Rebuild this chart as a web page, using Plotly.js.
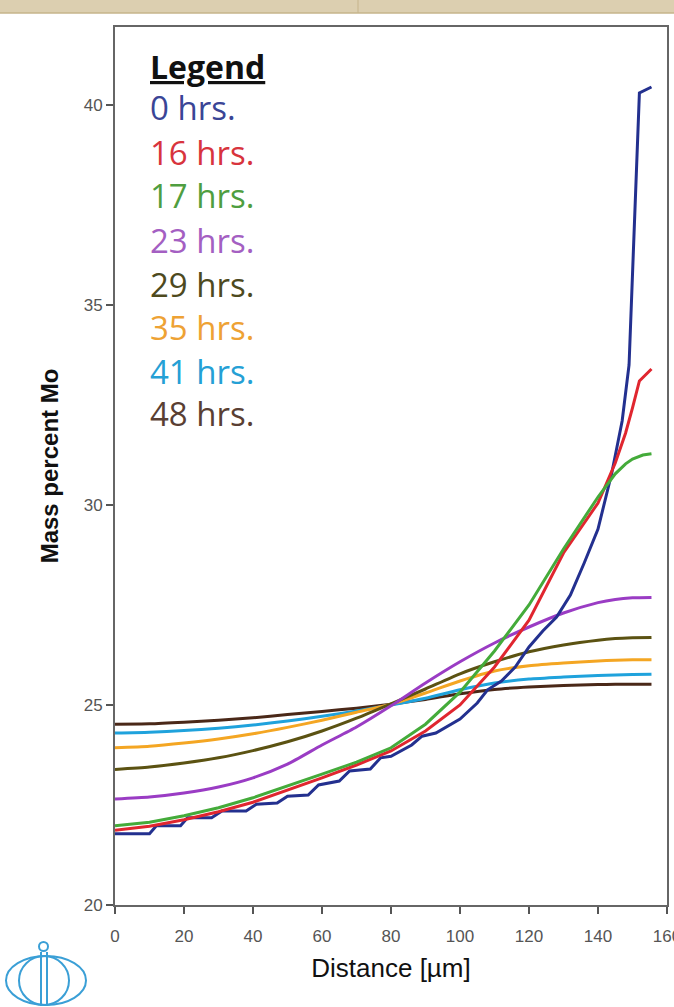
<!DOCTYPE html>
<html>
<head>
<meta charset="utf-8">
<script src="https://cdn.plot.ly/plotly-3.0.1.min.js"></script>
<style>
html,body{margin:0;padding:0;background:#fff;}
#chart{width:674px;height:1007px;}
</style>
</head>
<body>
<div id="chart"></div>
<script>
// ---- data ----
const seriesNames = ["0 hrs.", "16 hrs.", "17 hrs.", "23 hrs.", "29 hrs.", "35 hrs.", "41 hrs.", "48 hrs."];

const xSmooth = [0, 10, 20, 30, 40, 50, 60, 70, 80, 90, 100, 110, 120, 130, 140, 145, 150, 155.5];

const x0h = [0, 10, 12, 19, 21, 28, 31, 38, 41, 47, 50, 56, 59, 65, 68, 74, 77, 80, 86, 89, 93, 100, 105, 108, 112, 116, 120, 124, 128, 132, 136, 140, 144, 147, 149, 152, 155.5];
const y0h = [21.78, 21.78, 21.98, 21.98, 22.18, 22.18, 22.35, 22.35, 22.52, 22.55, 22.72, 22.75, 23.0, 23.1, 23.35, 23.4, 23.68, 23.72, 24.0, 24.22, 24.3, 24.65, 25.05, 25.38, 25.6, 25.95, 26.45, 26.85, 27.2, 27.75, 28.55, 29.4, 30.8, 32.1, 33.5, 40.3, 40.45];

const x16h = [0, 10, 20, 30, 40, 50, 60, 70, 80, 90, 100, 110, 120, 130, 140, 145, 148, 150, 152, 155.5];
const y16h = [21.87, 21.97, 22.13, 22.33, 22.57, 22.87, 23.18, 23.5, 23.85, 24.35, 25.0, 25.95, 27.12, 28.8, 30.05, 31.05, 31.8, 32.43, 33.1, 33.4];

const x17h = [0, 10, 20, 30, 40, 50, 60, 70, 80, 90, 100, 110, 120, 130, 140, 145, 148, 150, 153, 155.5];
const y17h = [21.98, 22.07, 22.23, 22.43, 22.68, 22.97, 23.27, 23.57, 23.93, 24.52, 25.32, 26.35, 27.5, 28.9, 30.2, 30.78, 31.03, 31.15, 31.25, 31.28];

const y23h = [22.65, 22.7, 22.8, 22.95, 23.18, 23.52, 24.0, 24.45, 24.98, 25.55, 26.08, 26.55, 26.95, 27.3, 27.56, 27.64, 27.68, 27.69];
const y29h = [23.39, 23.45, 23.55, 23.68, 23.86, 24.08, 24.35, 24.67, 25.03, 25.4, 25.78, 26.08, 26.33, 26.5, 26.62, 26.66, 26.68, 26.69];
const y35h = [23.93, 23.97, 24.05, 24.15, 24.28, 24.44, 24.62, 24.82, 25.02, 25.3, 25.6, 25.85, 25.98, 26.05, 26.1, 26.12, 26.13, 26.13];
const y41h = [24.3, 24.32, 24.36, 24.42, 24.5, 24.6, 24.72, 24.85, 25.0, 25.17, 25.38, 25.55, 25.65, 25.7, 25.74, 25.75, 25.76, 25.77];
const y48h = [24.52, 24.53, 24.57, 24.62, 24.68, 24.76, 24.84, 24.92, 25.02, 25.14, 25.28, 25.39, 25.45, 25.49, 25.51, 25.52, 25.52, 25.52];

const xTicks = [0, 20, 40, 60, 80, 100, 120, 140, 160];
const yTicks = [20, 25, 30, 35, 40];

const lineColors = ["#23308f", "#e0262f", "#44ab3a", "#9a3cc4", "#5b5212", "#f4a623", "#1fa2dc", "#4a2818"];
const textColors = ["#3a4596", "#d8343d", "#4f9e40", "#a45fc2", "#4e4a1e", "#eea234", "#25a0d5", "#5a3f33"];

// ---- traces ----
const xs = [x0h, x16h, x17h, xSmooth, xSmooth, xSmooth, xSmooth, xSmooth];
const ys = [y0h, y16h, y17h, y23h, y29h, y35h, y41h, y48h];
const order = [7, 6, 5, 4, 3, 0, 1, 2];
const traces = order.map(i => ({
  x: xs[i], y: ys[i], type: "scatter", mode: "lines", name: seriesNames[i],
  line: {color: lineColors[i], width: 3, shape: (i >= 3 ? "spline" : "linear"), smoothing: 0.6},
  hoverinfo: "skip"
}));

// plot-area geometry (px) for paper conversions of decorations
const W = 674, H = 1007, L = 115, R = 7, T = 27, B = 102;
const PW = W - L - R, PH = H - T - B;
const px = v => (v - L) / PW;
const py = v => (H - B - v) / PH;

const shapes = [
  {type: "rect", xref: "paper", yref: "paper", x0: px(0), x1: px(W), y0: py(13), y1: py(-2), fillcolor: "#dccfb0", line: {width: 0}, layer: "below"},
  {type: "line", xref: "paper", yref: "paper", x0: px(0), x1: px(W), y0: py(13), y1: py(13), line: {color: "#c6b48b", width: 1.5}},
  {type: "line", xref: "paper", yref: "paper", x0: px(358), x1: px(358), y0: py(0), y1: py(13), line: {color: "#c6b48b", width: 1}},
  // logo
  {type: "circle", xref: "paper", yref: "paper", x0: px(6), x1: px(86), y0: py(1005), y1: py(956), line: {color: "#3a9fd6", width: 2}},
  {type: "circle", xref: "paper", yref: "paper", x0: px(19), x1: px(69), y0: py(1005), y1: py(956), line: {color: "#3a9fd6", width: 2}},
  {type: "line", xref: "paper", yref: "paper", x0: px(41), x1: px(41), y0: py(1006), y1: py(952), line: {color: "#3a9fd6", width: 2}},
  {type: "line", xref: "paper", yref: "paper", x0: px(47), x1: px(47), y0: py(1006), y1: py(952), line: {color: "#3a9fd6", width: 2}},
  {type: "circle", xref: "paper", yref: "paper", x0: px(39), x1: px(48), y0: py(951), y1: py(942), line: {color: "#3a9fd6", width: 2}}
];

const legendFont = "Open Sans, Noto Sans, sans-serif";
const annotations = [
  {xref: "paper", yref: "paper", x: px(148), y: py(66), xanchor: "left", yanchor: "middle", showarrow: false,
   text: "<b><u>Legend</u></b>", font: {family: legendFont, size: 32, color: "#111"}}
];
const legendY = [108, 152, 196, 240, 284, 327, 371, 414];
seriesNames.forEach((n, i) => {
  annotations.push({xref: "paper", yref: "paper", x: px(148), y: py(legendY[i]), xanchor: "left", yanchor: "middle",
    showarrow: false, text: n, font: {family: legendFont, size: 33, color: textColors[i]}});
});

const axisFont = {family: "Liberation Sans, Arial, sans-serif", size: 17, color: "#555"};
const layout = {
  width: W, height: H,
  margin: {l: L, r: R, t: T, b: B, pad: 0},
  paper_bgcolor: "#ffffff", plot_bgcolor: "#ffffff",
  showlegend: false,
  xaxis: {
    range: [0, 160], tickvals: xTicks, ticktext: xTicks.map(String),
    showgrid: false, zeroline: false, showline: true, mirror: true, linecolor: "#666", linewidth: 2,
    ticks: "outside", ticklen: 7, tickwidth: 1.5, tickcolor: "#555", tickfont: axisFont,
    ticklabeloverflow: "allow", ticklabelstandoff: 8,
    title: {text: "Distance [µm]", standoff: 13, font: {family: "Liberation Sans, Arial, sans-serif", size: 26, color: "#111"}},
    fixedrange: true
  },
  yaxis: {
    range: [20, 41.95], tickvals: yTicks, ticktext: yTicks.map(String),
    showgrid: false, zeroline: false, showline: true, mirror: true, linecolor: "#666", linewidth: 2,
    ticks: "outside", ticklen: 7, tickwidth: 1.5, tickcolor: "#555", tickfont: axisFont,
    title: {text: "<b>Mass percent Mo</b>", standoff: 18, font: {family: "Liberation Sans, Arial, sans-serif", size: 24, color: "#111"}},
    fixedrange: true
  },
  shapes: shapes,
  annotations: annotations
};

Plotly.newPlot("chart", traces, layout, {staticPlot: true, displayModeBar: false});
</script>
</body>
</html>
